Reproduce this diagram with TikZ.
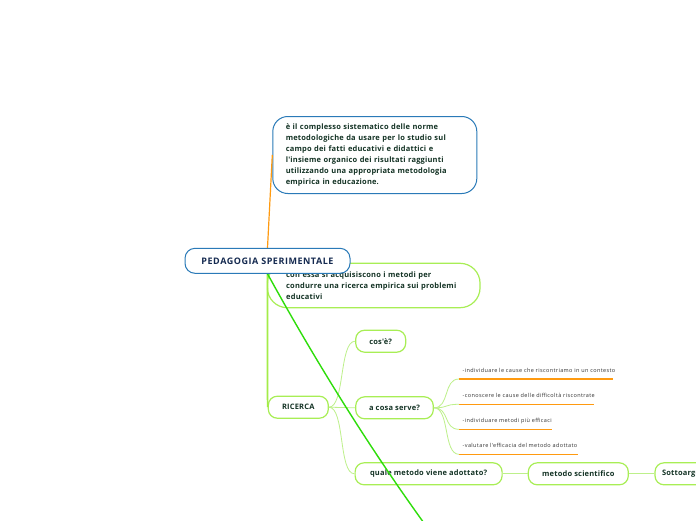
\documentclass[tikz,border=0pt]{standalone}
\usepackage{fontspec}
\setmainfont{Open Sans}
\newfontfamily\leaffont[LetterSpace=7]{Open Sans}
\newfontfamily\rootfont[LetterSpace=6]{Open Sans}
\newfontfamily\boxfont[LetterSpace=2.5]{Open Sans}
\newcommand\leaftext[2]{\makebox[#1][l]{#2}}
\definecolor{bluebd}{HTML}{2A7AB8}
\definecolor{navytx}{HTML}{152A50}
\definecolor{greenbd}{HTML}{A8EE55}
\definecolor{greentx}{HTML}{143325}
\definecolor{thinln}{HTML}{BDF08A}
\definecolor{vertln}{HTML}{A4EC48}
\definecolor{diagln}{HTML}{2EDD0A}
\definecolor{orangeln}{HTML}{FF9A10}
\pgfdeclarelayer{front}
\pgfsetlayers{main,front}
\tikzset{
  bluebox/.style={draw=bluebd, line width=1pt, fill=white, rounded corners=#1, inner sep=0pt},
  greenbox/.style={draw=greenbd, line width=1.2pt, fill=white, rounded corners=#1, inner sep=0pt},
  nodetext/.style={font=\boxfont\fontsize{7.5}{11.1}\selectfont\bfseries, text=greentx},
  leaf/.style={anchor=south west, inner xsep=3.5pt, inner ysep=5pt, font=\leaffont\fontsize{5.5}{6}\selectfont, text=black!80, text height=4pt, text depth=1.5pt},
  thinconn/.style={draw=thinln, line width=0.8pt},
  underl/.style={draw=orangeln, line width=1.3pt},
}
\begin{document}
\begin{tikzpicture}[x=1pt, y=-1pt]
\useasboundingbox (0,0) rectangle (696,520);
\clip (0,0) rectangle (696,520);
\fill[white] (0,0) rectangle (696,520);

% root on front layer
\begin{pgfonlayer}{front}
\node[bluebox=10pt, minimum width=165pt, minimum height=25pt, font=\rootfont\fontsize{9}{10}\selectfont\bfseries, text=navytx] (root) at (267.5,260.8) {PEDAGOGIA SPERIMENTALE};
\end{pgfonlayer}

% nodes
\node[bluebox=15pt, nodetext, minimum width=204pt, minimum height=77pt, text width=178pt, align=left] (top) at (374.8,155)
 {è il complesso sistematico delle norme\\metodologiche da usare per lo studio sul\\campo dei fatti educativi e didattici e\\l'insieme organico dei risultati raggiunti\\utilizzando una appropriata metodologia\\empirica in educazione.};

\node[greenbox=20pt, nodetext, minimum width=212.7pt, minimum height=44.4pt, text width=175pt, align=left] (con) at (373.7,285.5)
 {con essa si acquisiscono i metodi per\\condurre una ricerca empirica sui problemi\\educativi};

\node[greenbox=9pt, nodetext, minimum width=60pt, minimum height=22pt] (ricerca) at (298.3,407.2) {RICERCA};
\node[greenbox=9pt, nodetext, minimum width=50pt, minimum height=22pt] (cos) at (380.7,341.2) {cos'è?};
\node[greenbox=9pt, nodetext, minimum width=77.6pt, minimum height=22pt] (serve) at (394.5,407.8) {a cosa serve?};
\node[greenbox=9pt, nodetext, minimum width=147pt, minimum height=22pt] (quale) at (428.6,473.8) {quale metodo viene adottato?};
\node[greenbox=9pt, nodetext, minimum width=100pt, minimum height=22pt] (metodo) at (578.3,473.8) {metodo scientifico};
\node[greenbox=9pt, nodetext, minimum width=100pt, minimum height=22pt, text width=86pt, align=left] (sotto) at (705,473.8) {Sottoargomento};

\node[leaf] (l1) at (459,379) {\leaftext{147pt}{-individuare le cause che riscontriamo in un contesto}};
\node[leaf] (l2) at (459,404.3) {\leaftext{128pt}{-conoscere le cause delle difficoltà riscontrate}};
\node[leaf] (l3) at (459,429.3) {\leaftext{86pt}{-individuare metodi più efficaci}};
\node[leaf] (l4) at (459,454.3) {\leaftext{112pt}{-valutare l'efficacia del metodo adottato}};

% connectors
\draw[underl] (l1.south west) -- (l1.south east);
\draw[underl] (l2.south west) -- (l2.south east);
\draw[underl] (l3.south west) -- (l3.south east);
\draw[underl] (l4.south west) -- (l4.south east);

\foreach \l in {l1,l2,l3,l4}
  \draw[thinconn] (serve.east) .. controls +(16,0) and +(-16,0) .. (\l.south west);

\draw[thinconn] (ricerca.east) .. controls +(16,0) and +(-16,0) .. (cos.west);
\draw[thinconn] (ricerca.east) -- (serve.west);
\draw[thinconn] (ricerca.east) .. controls +(16,0) and +(-16,0) .. (quale.west);
\draw[thinconn] (quale.east) -- (metodo.west);
\draw[thinconn] (metodo.east) -- (sotto.west);

\coordinate (rbend) at (267.5,397);
\draw[draw=vertln, line width=1.6pt] (root.south) -- (rbend) .. controls (267.5,404) and (268,407.2) .. (ricerca.west);

\draw[draw=orangeln, line width=1.2pt] (root.north) -- (top.west);

\coordinate (offend) at (440,545);
\draw[draw=diagln, line width=1.4pt] (root.south) .. controls (319.6,368.4) and (377.1,460.1) .. (offend);
\end{tikzpicture}
\end{document}
